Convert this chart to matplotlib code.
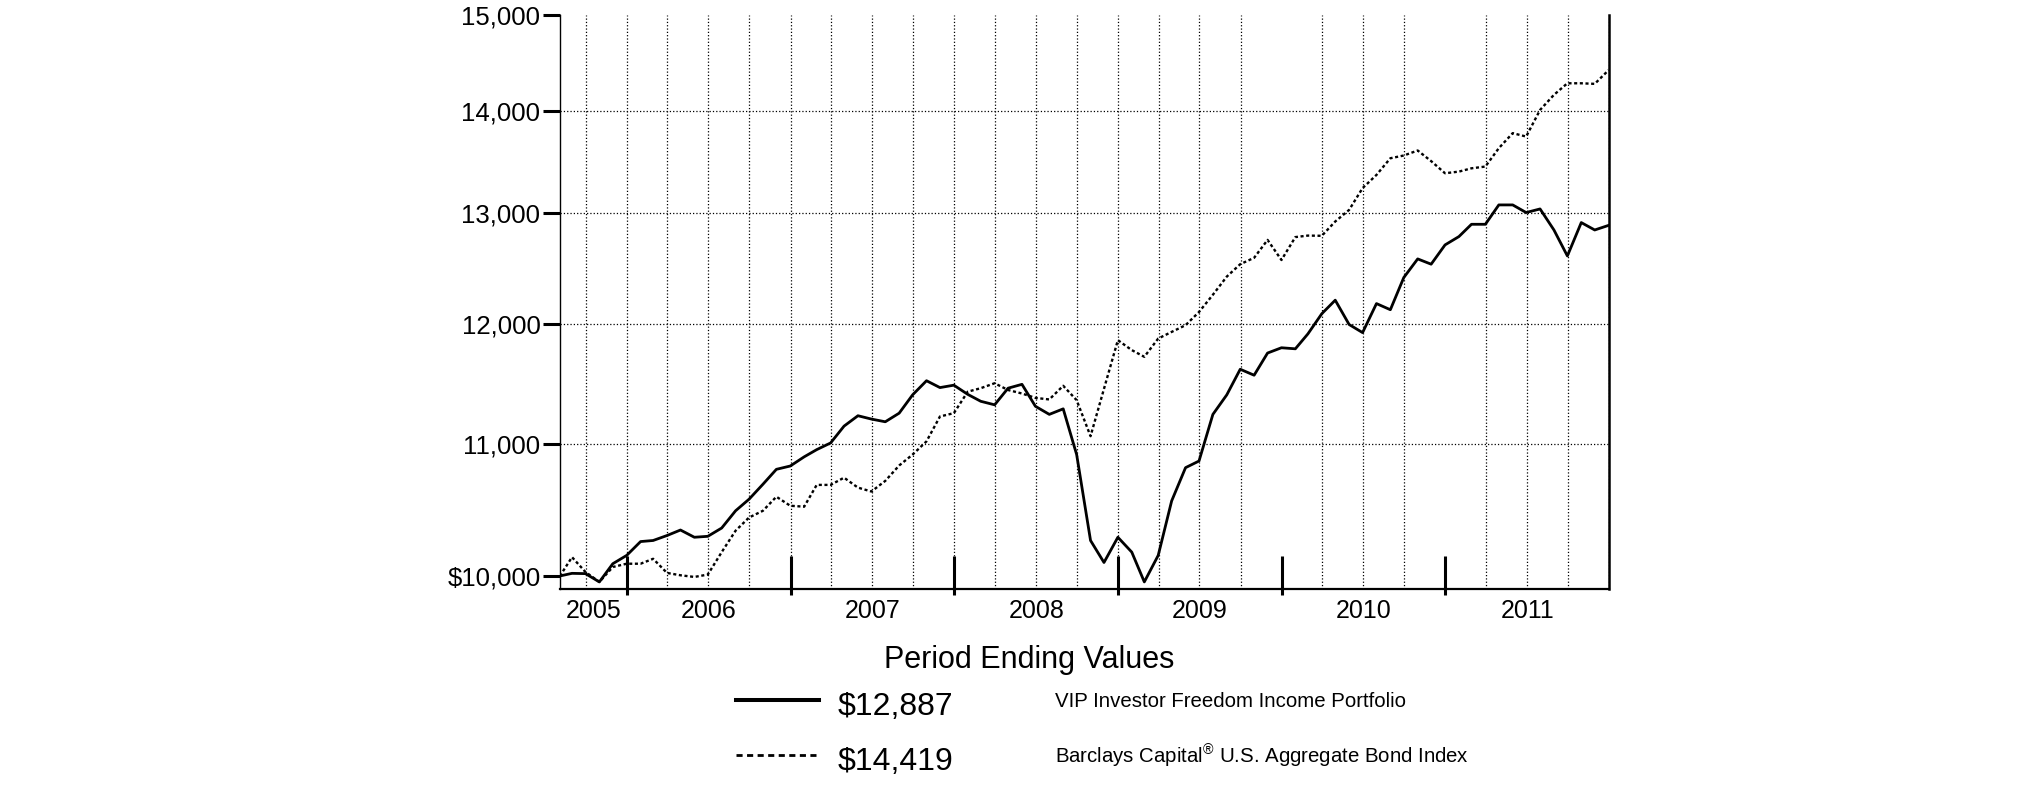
import matplotlib.pyplot as plt
import matplotlib.dates as mdates
from matplotlib.lines import Line2D
from matplotlib.ticker import NullLocator
import pandas as pd

plt.rcParams['font.family'] = ['Liberation Sans', 'DejaVu Sans']
plt.rcParams['mathtext.fontset'] = 'custom'
plt.rcParams['mathtext.rm'] = 'Liberation Sans'
plt.rcParams['mathtext.default'] = 'regular'

# start of the chart, then month-end values
dates = pd.DatetimeIndex(['2005-08-04']).append(
    pd.date_range('2005-08-31', '2011-12-31', freq='ME'))

fund = [10000, 10019, 10017, 9957, 10089, 10150, 10252, 10260, 10297, 10338,
        10284, 10291, 10353, 10483, 10571, 10686, 10802, 10828, 10900, 10957,
        11010, 11145, 11229, 11202, 11180, 11250, 11400, 11517, 11460, 11480,
        11404, 11347, 11318, 11455, 11487, 11306, 11240, 11285, 10918, 10260,
        10098, 10284, 10174, 9957, 10150, 10558, 10815, 10867, 11240, 11400,
        11613, 11563, 11750, 11795, 11786, 11914, 12089, 12208, 11995, 11925,
        12178, 12124, 12410, 12578, 12530, 12706, 12783, 12897, 12897, 13079,
        13079, 13007, 13041, 12844, 12605, 12913, 12844, 12887]

bond_index = [10000, 10137, 10029, 9957, 10065, 10089, 10089, 10125, 10022, 10005,
              9993, 10010, 10174, 10333, 10432, 10483, 10590, 10521, 10514, 10681,
              10681, 10737, 10660, 10630, 10712, 10832, 10918, 11023, 11223, 11250,
              11426, 11455, 11496, 11440, 11411, 11375, 11362, 11475, 11356, 11064,
              11450, 11860, 11775, 11718, 11874, 11931, 11989, 12104, 12256, 12418,
              12530, 12588, 12752, 12568, 12778, 12792, 12790, 12923, 13032, 13239,
              13366, 13528, 13555, 13604, 13500, 13382, 13398, 13430, 13447, 13627,
              13776, 13742, 14009, 14163, 14282, 14282, 14276, 14419]

y_ticks = [10000, 11000, 12000, 13000, 14000, 15000]
y_labels = ['$10,000', '11,000', '12,000', '13,000', '14,000', '15,000']
years = [2005, 2006, 2007, 2008, 2009, 2010, 2011]
end_date = pd.Timestamp('2012-01-01')

fund_name = 'VIP Investor Freedom Income Portfolio'
index_name = 'Barclays Capital$^{®}$ U.S. Aggregate Bond Index'
fund_end = '$12,887'
index_end = '$14,419'

fig = plt.figure(figsize=(20.25, 8.06), dpi=100)
ax = fig.add_axes([0.2765, 0.2692, 0.5181, 0.7116])

x = mdates.date2num(dates)
ax.plot(x, fund, color='black', lw=2.0)
ax.plot(x, bond_index, color='black', lw=1.7, ls=(0, (1.3, 1.1)))

ax.set_yscale('log')
ax.set_ylim(9906, 15000)
x_end = mdates.date2num(end_date)
ax.set_xlim(x[0], x_end)

# y axis
ax.set_yticks(y_ticks, y_labels)
ax.yaxis.set_minor_locator(NullLocator())
ax.tick_params(axis='y', which='major', direction='out', length=12, width=2.2,
               labelsize=18.5, pad=2)
ax.yaxis.grid(True, ls=':', color='black', lw=0.9)
for t in ax.yaxis.get_major_ticks():
    if t.get_loc() in (10000, 15000):
        t.gridline.set_visible(False)

# x axis: quarterly grid, year labels in the middle of each year
quarters = pd.date_range('2005-10-01', end_date, freq='QS')
quarters = [q for q in quarters if q not in (pd.Timestamp('2010-01-01'), pd.Timestamp('2011-01-01'))]
ax.set_xticks(mdates.date2num(quarters))
ax.xaxis.set_major_formatter(plt.NullFormatter())
ax.xaxis.grid(True, which='major', ls=':', color='black', lw=0.9)

year_bounds = [pd.Timestamp(f'{y}-01-01') for y in years[1:]]
label_pos = []
for y in years:
    a = max(dates[0], pd.Timestamp(f'{y}-01-01'))
    b = pd.Timestamp(f'{y + 1}-01-01')
    label_pos.append(mdates.date2num(a + (b - a) / 2))
ax.set_xticks(label_pos, [str(y) for y in years], minor=True)
ax.tick_params(axis='x', which='both', length=0)
ax.tick_params(axis='x', which='minor', labelsize=18, pad=7)

# long tick marks at year boundaries
for direction, length in (('in', 24), ('out', 4.5)):
    sec = ax.secondary_xaxis('bottom')
    sec.set_xticks(mdates.date2num(year_bounds))
    sec.xaxis.set_minor_locator(NullLocator())
    sec.tick_params(direction=direction, length=length, width=2.2, labelbottom=False)
    sec.spines['bottom'].set_visible(False)

ax.spines['top'].set_visible(False)
ax.spines['left'].set_linewidth(1.0)
ax.spines['bottom'].set_linewidth(1.6)
ax.spines['right'].set_linewidth(1.8)

# legend block
fig.text(0.5081, 0.1712, 'Period Ending Values', ha='center', va='baseline', fontsize=22)
fig.add_artist(Line2D([0.3635, 0.4044], [0.1315, 0.1315], transform=fig.transFigure,
                      color='black', lw=2.9))
fig.add_artist(Line2D([0.3635, 0.4044], [0.0633, 0.0633], transform=fig.transFigure,
                      color='black', lw=2.0, ls=(0, (2.2, 1.6))))
fig.text(0.4138, 0.1129, fund_end, va='baseline', fontsize=23)
fig.text(0.4138, 0.0447, index_end, va='baseline', fontsize=23)
fig.text(0.5210, 0.1225, fund_name, va='baseline', fontsize=14.7)
fig.text(0.5210, 0.0530, index_name, va='baseline', fontsize=14.7)

fig.savefig('out.png', dpi=100)
